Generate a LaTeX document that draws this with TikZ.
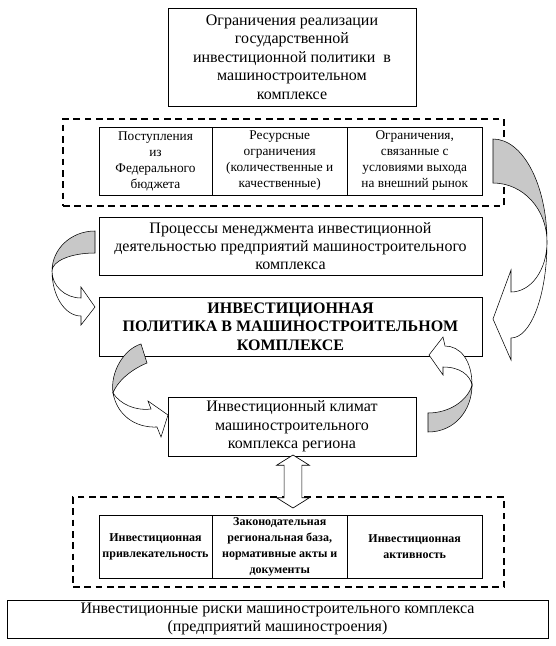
\documentclass[tikz,border=0pt]{standalone}
\usepackage{fontspec}
\setmainfont{Liberation Serif}
\usetikzlibrary{
    shapes.arrows,
    positioning,
    calc
}
\definecolor{bandgray}{RGB}{200, 200, 200}

\begin{document}
\begin{tikzpicture}[
        x=0.75pt, y=-0.75pt,
        box/.style={draw, line width=0.7pt, align=center, inner sep=1pt, font=\fontsize{12}{13.8}\selectfont},
        cell/.style={draw, line width=0.7pt, align=center, inner sep=1pt, outer sep=0pt, minimum height=51pt, font=\fontsize{10}{12}\selectfont},
        boldcell/.style={cell, minimum height=47.25pt, font=\fontsize{9}{12}\selectfont\bfseries},
        framebox/.style={draw, line width=1.1pt, dash pattern=on 5pt off 3.5pt, inner sep=0pt},
        dblarrow/.style={double arrow, draw, fill=white, line width=0.5pt, rotate=90, inner sep=6.4pt, double arrow head extend=5.6pt, double arrow tip angle=116, minimum height=39.75pt},
        backband/.style={draw, line width=0.4pt, fill=bandgray},
        frontband/.style={draw, line width=0.4pt, fill=white}
    ]
        \useasboundingbox (0,0) rectangle (556,646);

        % Top: restrictions
        \node[box, minimum width=186pt, minimum height=73.5pt] (limits) at (292,57) {
            Ограничения реализации\\
            государственной\\
            инвестиционной политики~ в\\
            машиностроительном\\
            комплексе
        };

        % Restrictions table
        \node[framebox, minimum width=330.75pt, minimum height=65.25pt] (limitframe) at (283.5,162.5) {};
        \node[cell, minimum width=84.75pt] (budget) at (155.5,161) {Поступления\\из\\Федерального\\бюджета};
        \node[cell, minimum width=101.6pt, right=0pt of budget] (resource) {Ресурсные\\ограничения\\(количественные и\\качественные)};
        \node[cell, minimum width=100.9pt, right=0pt of resource] (market) {Ограничения,\\связанные с\\условиями выхода\\на внешний рынок};

        % Management processes
        \node[box, minimum width=287.25pt, minimum height=43.5pt] (process) at (290.5,246) {
            Процессы менеджмента инвестиционной\\
            деятельностью предприятий машиностроительного\\
            комплекса
        };

        % Investment policy
        \node[box, minimum width=287.25pt, minimum height=44.25pt, font=\fontsize{12}{13.8}\selectfont\bfseries] (policy) at (290.5,326.5) {
            ИНВЕСТИЦИОННАЯ\\
            ПОЛИТИКА В МАШИНОСТРОИТЕЛЬНОМ\\
            КОМПЛЕКСЕ
        };

        % Investment climate
        \node[box, minimum width=186pt, minimum height=44.25pt] (climate) at (292,426.5) {
            Инвестиционный климат\\
            машиностроительного\\
            комплекса региона
        };

        % Climate factors table
        \node[framebox, minimum width=323.25pt, minimum height=67.5pt] (factorframe) at (288.5,542) {};
        \node[boldcell, minimum width=84.75pt] (appeal) at (155.5,546.5) {Инвестиционная\\привлекательность};
        \node[boldcell, minimum width=101.6pt, right=0pt of appeal] (laws) {Законодательная\\региональная база,\\нормативные акты и\\документы};
        \node[boldcell, minimum width=100.9pt, right=0pt of laws] (activity) {Инвестиционная\\активность};

        % Risks
        \node[box, minimum width=405.75pt, minimum height=28.5pt] (risks) at (277.5,619) {
            Инвестиционные риски машиностроительного комплекса\\
            (предприятий машиностроения)
        };

        % Double arrow climate <-> factors
        \node[dblarrow] (link) at (293,481.5) {};

        % Curved arrows
        \draw[backband] (493,139) .. controls (523,139) and (547,185) .. (547,242)
            .. controls (547,209) and (523,183) .. (493,183) -- cycle;
        \draw[frontband] (547,242) .. controls (547,295) and (531,338) .. (511,338)
            -- (511,360) -- (493,319) -- (511,270) -- (511,292)
            .. controls (531,292) and (547,270) .. (547,242) -- cycle;

        \draw[backband] (95,231) .. controls (71,231) and (52,249) .. (52,271)
            .. controls (52,261) and (71,253) .. (95,253) -- cycle;
        \draw[frontband] (52,271) .. controls (52,296) and (65,316) .. (81,316)
            -- (81,325) -- (95,307) -- (81,287) -- (81,298)
            .. controls (65,298) and (52,286) .. (52,271) -- cycle;

        \draw[backband] (141,344) .. controls (124,349) and (110,372) .. (113,393)
            .. controls (117,382) and (130,370) .. (147,363) -- cycle;
        \draw[frontband] (113,393) .. controls (117,415) and (135,428) .. (157,427)
            -- (161,437) -- (168,415) -- (148,401) -- (151,409)
            .. controls (135,411) and (120,404) .. (113,393) -- cycle;

        \draw[backband] (428,413) .. controls (450,413) and (468,400) .. (472,385)
            .. controls (472,410) and (455,432) .. (428,432) -- cycle;
        \draw[frontband] (472,385) .. controls (472,360) and (460,346) .. (445,346)
            -- (443,337) -- (429,355) -- (443,375) -- (443,367)
            .. controls (460,367) and (470,375) .. (472,385) -- cycle;
    \end{tikzpicture}
\end{document}
